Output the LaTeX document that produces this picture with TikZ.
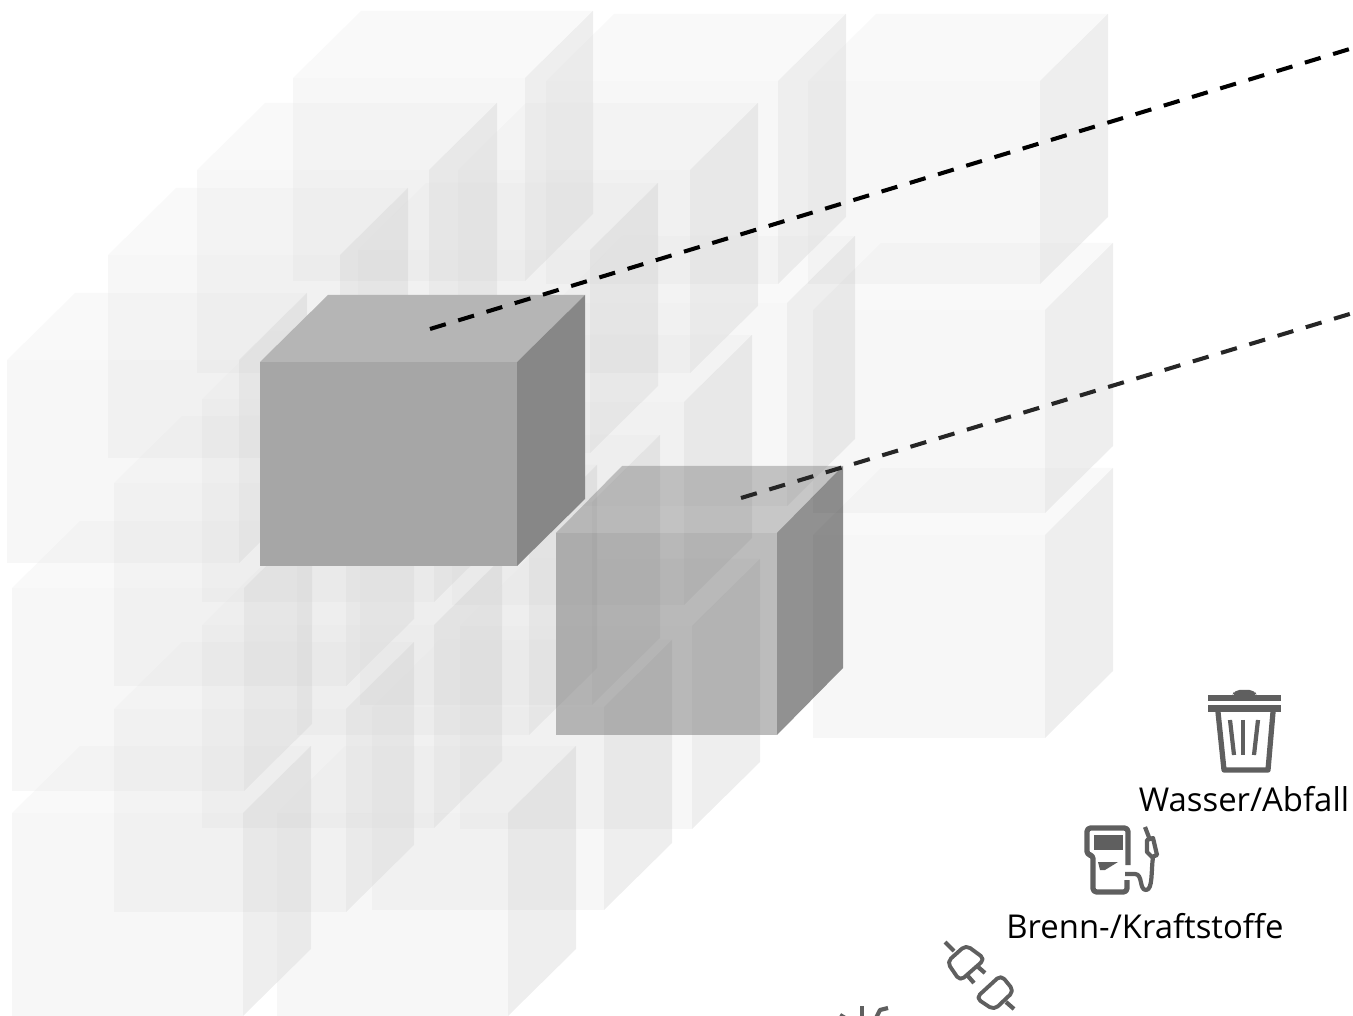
\documentclass[tikz,border=0pt]{standalone}
\usepackage{fontspec}
\setmainfont{Open Sans}
\usepackage{xcolor}
\usepackage{tikz}
\definecolor{frontgray}{RGB}{217,217,217}
\definecolor{topgray}{RGB}{222,222,222}
\definecolor{sidegray}{RGB}{170,170,170}
\definecolor{icongray}{RGB}{95,95,95}
\newcommand{\cubedx}{68}
% one cube: front left top corner (x,y), width, height
\newcommand{\cubebox}[5][glass]{%
  \begin{scope}[#1]
    \fill[front] (#2,#3) rectangle ++(#4,#5);
    \fill[top] (#2,#3) -- ++(\cubedx,-67) -- ++(#4,0) -- ++(-\cubedx,67) -- cycle;
    \fill[side] (#2+#4,#3) -- ++(\cubedx,-67) -- ++(0,#5) -- ++(-\cubedx,67) -- cycle;
  \end{scope}}
\begin{document}
\begin{tikzpicture}[x=0.02cm,y=-0.02cm,
  glass/.style={front/.style={fill=frontgray,fill opacity=0.2},
    top/.style={fill=topgray,fill opacity=0.17},
    side/.style={fill=sidegray,fill opacity=0.2}},
  solidbox/.style={front/.style={fill=black!35},top/.style={fill=black!29},side/.style={fill=black!47}},
  veil/.style={front/.style={fill=black!58,fill opacity=0.45},
    top/.style={fill=black!49,fill opacity=0.45},
    side/.style={fill=black!96,fill opacity=0.45}},
  leader/.style={dash pattern=on 16.5*0.02cm off 13*0.02cm,line width=2.3pt},
  icon/.style={draw=icongray,line width=3pt,line join=round},
  iconthin/.style={icon,line width=2.4pt},
  plugbody/.style={icon,line width=2.2pt,rounded corners=3pt},
  label/.style={font=\fontsize{18.7pt}{20pt}\selectfont,anchor=base}]
  \useasboundingbox (0,0) rectangle (1353,1016);
  % light cubes, back to front
  \foreach \x/\y in {293/78,546/81,808/81,197/170,458/170,108/255,358/250,
    813/310,555/303,7/360,452/402,114/483,202/399,360/502,297/532,
    12/588,114/709,202/625,460/626,372/707}{\cubebox{\x}{\y}{232}{203}}
  \cubebox{813}{535}{232}{203}
  \begin{scope}
    \clip (0,0) rectangle (1353,1016);
    \cubebox{12}{813}{231}{203}
    \cubebox{277}{813}{231}{203}
  \end{scope}
  % selected cubes
  \renewcommand{\cubedx}{66}
  \cubebox[veil]{556}{533}{221}{202}
  \renewcommand{\cubedx}{68}
  \cubebox[solidbox]{260}{362}{257}{204}
  % leaders
  \coordinate (boxa) at (430,329);
  \coordinate (boxb) at (741,498);
  \coordinate (outa) at (1353,48);
  \coordinate (outb) at (1353,313);
  \draw[leader,black] (boxa) -- (outa);
  \draw[leader,black!85] (boxb) -- (outb);
  % waste bin
  \fill[icongray,rounded corners=3pt] (1232,697) -- (1234,690) -- (1255,690) -- (1257,697) -- cycle;
  \fill[icongray] (1208,695) rectangle (1281,701);
  \fill[icongray] (1208,705) rectangle (1281,712);
  \draw[icon] (1218,712) -- (1224,770) -- (1268,770) -- (1273,712);
  \draw[iconthin] (1230,720) -- (1234,755);
  \draw[iconthin] (1243,720) -- (1243,755);
  \draw[iconthin] (1258,720) -- (1254,755);
  \node[label] (waste) at (1244,811) {Wasser/Abfall};
  % fuel pump
  \draw[icon,rounded corners=2pt] (1127,880) -- (1127,892) -- (1093,892) -- (1093,855) -- (1087,855)
    -- (1087,828) -- (1128,828) -- (1128,865);
  \fill[icongray] (1094,835) rectangle (1123,850);
  \fill[icongray] (1098,862) -- (1118,862) -- (1105,870) -- (1100,870) -- cycle;
  \draw[iconthin] (1125,874) -- (1135,874) .. controls (1143,874) and (1139,890) .. (1146,890)
    .. controls (1153,890) and (1151,870) .. (1153,857);
  \draw[iconthin] (1145,827) -- (1150,840);
  \draw[iconthin] (1147,840) -- (1153,838) -- (1157,855) -- (1152,857) -- (1147,852) -- cycle;
  \node[label] (fuel) at (1145,938) {Brenn-/Kraftstoffe};
  % plug
  \draw[iconthin] (945,942) -- (954,951);
  \draw[plugbody] (966,945) -- (985,959) -- (960,981) -- (947,962) -- cycle;
  \draw[iconthin] (977,966) -- (985,973);
  \draw[iconthin] (967,975) -- (974,983);
  \draw[plugbody] (1001,975) -- (1014,991) -- (994,1010) -- (976,998) -- cycle;
  \draw[iconthin] (1006,1002) -- (1014,1009);
  % cut off icon at the lower edge
  \begin{scope}
    \clip (0,0) rectangle (1353,1016);
    \draw[iconthin] (862,1006) -- (862,1018);
    \draw[iconthin] (876,1018) -- (880,1010) -- (888,1008);
    \draw[iconthin] (840,1015) -- (845,1018);
  \end{scope}
\end{tikzpicture}
\end{document}
